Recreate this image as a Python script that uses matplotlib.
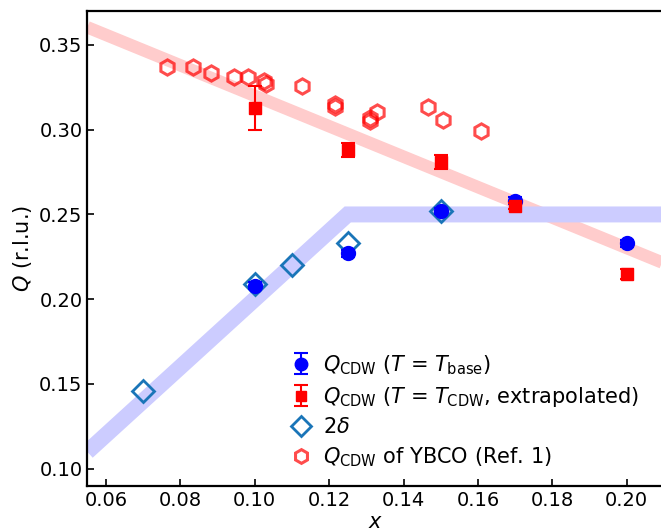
from matplotlib import pyplot as plt
import numpy as np

# Q_CDW at T = T_base
XBase = [0.10, 0.125, 0.15, 0.17, 0.20]
QBase = [0.208, 0.227, 0.252, 0.258, 0.233]
QBaseErr = [0.002, 0.002, 0.002, 0.002, 0.002]

# Q_CDW at T = T_CDW (extrapolated)
XCdw = [0.10, 0.125, 0.15, 0.17, 0.20]
QCdw = [0.313, 0.288, 0.281, 0.255, 0.215]
QCdwErr = [0.013, 0.004, 0.004, 0.002, 0.003]

# 2 delta
XDelta = [0.07, 0.10, 0.11, 0.125, 0.15]
QDelta = [0.146, 0.209, 0.220, 0.233, 0.252]

# YBCO reference data
XYbco = [0.0765, 0.0834, 0.0883, 0.0945, 0.0983, 0.1026, 0.1030, 0.1126,
         0.1216, 0.1216, 0.1310, 0.1310, 0.1328, 0.1465, 0.1507, 0.1607]
QYbco = [0.3368, 0.3372, 0.3335, 0.3313, 0.3309, 0.3285, 0.3272, 0.3260,
         0.3153, 0.3133, 0.3054, 0.3070, 0.3103, 0.3133, 0.3059, 0.2992]

# guide bands
XRedBand = [0.055, 0.21]
QRedBand = [0.3604, 0.2212]
XBlueBand = [0.055, 0.125, 0.21]
QBlueBand = [0.110, 0.250, 0.250]

plt.rcParams['font.size'] = 14
plt.rcParams['mathtext.fontset'] = 'dejavusans'

fig = plt.figure(figsize=(6.61, 5.31), dpi=100)
ax = fig.add_axes([0.1321, 0.0853, 0.8724, 0.894])

ax.plot(XRedBand, QRedBand, color=(1, 0.8, 0.8), lw=9, solid_capstyle='butt', zorder=1)
ax.plot(XBlueBand, QBlueBand, color=(0.8, 0.8, 1), lw=11.5, solid_capstyle='butt',
        solid_joinstyle='miter', zorder=1)

hHex, = ax.plot(XYbco, QYbco, 'h', ms=11, mfc='none', mec='red', mew=2.2, alpha=0.7,
                ls='none', zorder=2, label=r'$Q_{\mathrm{CDW}}$ of YBCO (Ref. 1)')
hDia, = ax.plot(XDelta, QDelta, 'D', ms=11, mfc='none', mec='#1a75b8', mew=2,
                ls='none', zorder=3, label=r'$2\delta$')
hBase = ax.errorbar(XBase, QBase, yerr=QBaseErr, fmt='o', color='blue', ms=10,
                    capsize=5, elinewidth=1.5, capthick=1.5, zorder=4,
                    label=r'$Q_{\mathrm{CDW}}$ ($T$ = $T_{\mathrm{base}}$)')
hCdw = ax.errorbar(XCdw, QCdw, yerr=QCdwErr, fmt='s', color='red', ms=8.5,
                   capsize=5, elinewidth=1.5, capthick=1.5, zorder=5,
                   label=r'$Q_{\mathrm{CDW}}$ ($T$ = $T_{\mathrm{CDW}}$, extrapolated)')

ax.set_xlim(0.055, 0.21)
ax.set_ylim(0.09, 0.37)
ax.set_xticks([0.06, 0.08, 0.10, 0.12, 0.14, 0.16, 0.18, 0.20])
ax.set_yticks([0.10, 0.15, 0.20, 0.25, 0.30, 0.35])
ax.xaxis.set_major_formatter(plt.FormatStrFormatter('%.2f'))
ax.yaxis.set_major_formatter(plt.FormatStrFormatter('%.2f'))
ax.tick_params(direction='in', length=5, width=1.2, labelsize=14)
for s in ax.spines.values():
    s.set_linewidth(1.6)
ax.set_xlabel(r'$x$', labelpad=2, fontsize=15)
ax.set_ylabel(r'$Q$ (r.l.u.)', fontsize=15)

ax.legend(handles=[hBase, hCdw, hDia, hHex], loc='upper left',
          bbox_to_anchor=(0.34, 0.297), frameon=False, handlelength=0.9,
          handletextpad=0.6, labelspacing=0.4, borderaxespad=0,
          fontsize=15, markerscale=0.9)

fig.savefig('out.png', dpi=100)
